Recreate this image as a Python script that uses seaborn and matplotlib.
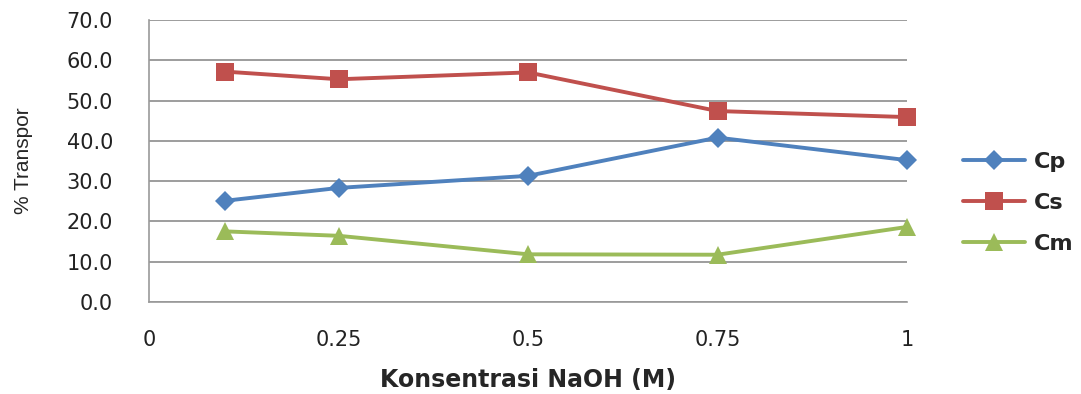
import pandas as pd
import matplotlib
matplotlib.use("Agg")
import matplotlib.pyplot as plt
import seaborn as sns

# data
naoh = [0.1, 0.25, 0.5, 0.75, 1.0]
cp = [25.1, 28.3, 31.3, 40.8, 35.2]
cs = [57.2, 55.3, 57.0, 47.4, 45.9]
cm = [17.5, 16.4, 11.8, 11.7, 18.6]
series_names = ["Cp", "Cs", "Cm"]
x_ticks = [0, 0.25, 0.5, 0.75, 1]
x_tick_labels = ["0", "0.25", "0.5", "0.75", "1"]

df = pd.DataFrame({
    "NaOH": naoh * 3,
    "Transpor": cp + cs + cm,
    "Seri": [n for n in series_names for _ in naoh],
})

sns.set_theme(style="white")
plt.rcParams["font.family"] = ["DejaVu Sans"]

fig = plt.figure(figsize=(10.81, 3.94), dpi=100)
ax = fig.add_axes([0.138, 0.234, 0.701, 0.715])

palette = {"Cp": "#4F81BD", "Cs": "#C0504D", "Cm": "#9BBB59"}
markers = {"Cp": "D", "Cs": "s", "Cm": "^"}
sizes = {"Cp": 10, "Cs": 13, "Cm": 13}

for name in series_names:
    sub = df[df["Seri"] == name]
    sns.lineplot(data=sub, x="NaOH", y="Transpor", ax=ax, color=palette[name],
                 marker=markers[name], markersize=sizes[name], linewidth=2.8,
                 markeredgewidth=0, label=name, clip_on=False)

ax.set_xlim(0, 1)
ax.set_ylim(0, 70)
ax.set_yticks(range(0, 71, 10))
ax.set_yticklabels([f"{v:.1f}" for v in range(0, 71, 10)], fontsize=15, color="#222222")
ax.set_xticks(x_ticks)
ax.set_xticklabels(x_tick_labels, fontsize=15, color="#222222")
ax.tick_params(axis="y", length=0, pad=26)
ax.tick_params(axis="x", length=0, pad=20)
ax.yaxis.grid(True, color="#8c8c8c", linewidth=1.2)
ax.set_axisbelow(True)
for s in ["top", "right"]:
    ax.spines[s].set_visible(False)
for s in ["left", "bottom"]:
    ax.spines[s].set_color("#9a9a9a")
    ax.spines[s].set_linewidth(1.2)

ax.set_xlabel("Konsentrasi NaOH (M)", fontsize=17, fontweight="bold",
              family=["DejaVu Sans"], va="center")
ax.xaxis.set_label_coords(0.5, -0.277)
ax.set_ylabel("% Transpor", fontsize=15, va="center",
              family=["Liberation Sans Narrow", "Liberation Sans"])
ax.yaxis.set_label_coords(-0.166, 0.5)

leg = ax.legend(loc="center left", bbox_to_anchor=(0.891, 0.485),
                bbox_transform=fig.transFigure, frameon=False, borderpad=0,
                borderaxespad=0, handlelength=2.8, labelspacing=0.95,
                handletextpad=0.4,
                prop={"family": "DejaVu Sans", "weight": "bold", "size": 16})

fig.savefig("out.png", dpi=100)
